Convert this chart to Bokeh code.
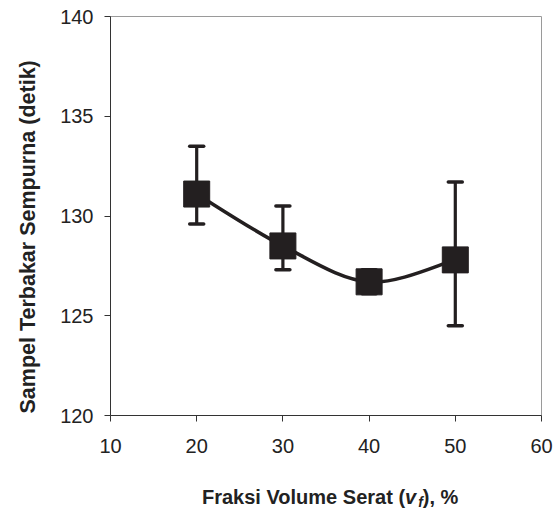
from bokeh.plotting import figure
from bokeh.models import ColumnDataSource, Whisker, TeeHead, Range1d, FixedTicker, Title, Div
from bokeh.layouts import column
from bokeh.embed import file_html
from bokeh.resources import INLINE

# Data
fraksi = [20, 30, 40, 50]
waktu = [131.1, 128.5, 126.7, 127.8]
err_atas = [133.5, 130.5, 127.3, 131.7]
err_bawah = [129.6, 127.3, 126.1, 124.5]

x_ticks = [10, 20, 30, 40, 50, 60]
y_ticks = [120, 125, 130, 135, 140]

y_title = "Sampel Terbakar Sempurna (detik)"

INK = "#231f20"
FONT = "Liberation Sans"

p = figure(width=558, height=475, output_backend="svg", toolbar_location=None,
           x_range=Range1d(10, 60), y_range=Range1d(120, 140),
           min_border_left=110, min_border_right=17, min_border_top=16, min_border_bottom=60)
p.xgrid.visible = False
p.ygrid.visible = False
p.outline_line_color = "#9a9a9a"
p.outline_line_width = 1
p.background_fill_color = "white"
p.border_fill_color = "white"

for ax in (p.xaxis[0], p.yaxis[0]):
    ax.axis_line_color = "#333333"
    ax.major_tick_line_color = "#333333"
    ax.major_tick_in = 0
    ax.major_tick_out = 6
    ax.minor_tick_line_color = None
    ax.major_label_text_font = FONT
    ax.major_label_text_font_size = "20px"
    ax.major_label_text_color = "#222222"

p.xaxis.ticker = FixedTicker(ticks=x_ticks)
p.yaxis.ticker = FixedTicker(ticks=y_ticks)
p.xaxis.major_label_standoff = 17
p.yaxis.major_label_standoff = 11

# Y title as a side-panel title so it can be offset along the axis
p.add_layout(Title(text=y_title, align="left", offset=2, standoff=31, vertical_align="top",
                   text_font=FONT, text_font_style="bold", text_font_size="21.5px",
                   text_color="#222222"), "left")

# Error bars
src = ColumnDataSource(dict(x=fraksi, y=waktu, up=err_atas, lo=err_bawah))
w = Whisker(base="x", upper="up", lower="lo", source=src,
            line_color=INK, line_width=3.2,
            upper_head=TeeHead(size=14, line_width=3.5, line_color=INK, line_cap="round"),
            lower_head=TeeHead(size=14, line_width=3.5, line_color=INK, line_cap="round"))
p.add_layout(w)

# Smoothed line (Catmull-Rom style Bezier through the data points)
n = len(fraksi)
x0s, y0s, x1s, y1s, cx0, cy0, cx1, cy1 = [], [], [], [], [], [], [], []
for i in range(n - 1):
    xm1, ym1 = (fraksi[i - 1], waktu[i - 1]) if i > 0 else (fraksi[i], waktu[i])
    xp2, yp2 = (fraksi[i + 2], waktu[i + 2]) if i + 2 < n else (fraksi[i + 1], waktu[i + 1])
    x0s.append(fraksi[i]); y0s.append(waktu[i])
    x1s.append(fraksi[i + 1]); y1s.append(waktu[i + 1])
    cx0.append(fraksi[i] + (fraksi[i + 1] - xm1) / 6)
    cy0.append(waktu[i] + (waktu[i + 1] - ym1) / 6)
    cx1.append(fraksi[i + 1] - (xp2 - fraksi[i]) / 6)
    cy1.append(waktu[i + 1] - (yp2 - waktu[i]) / 6)
p.bezier(x0=x0s, y0=y0s, x1=x1s, y1=y1s, cx0=cx0, cy0=cy0, cx1=cx1, cy1=cy1,
         line_color=INK, line_width=3.5)

# Markers
p.scatter("x", "y", source=src, marker="square", size=26, fill_color=INK, line_color=INK)

# X title (mixed styles: italic v with subscript f)
x_title_html = (
    "<div style=\"padding-left:202px;padding-top:12px;font-family:'Liberation Sans';"
    "font-size:20px;font-weight:bold;line-height:20px;color:#222222;white-space:nowrap\">"
    "Fraksi Volume Serat (<i>v<sub style=\"font-size:14px;vertical-align:-3px;padding-left:2px\">f</sub></i>), %"
    "</div>"
)
div = Div(text=x_title_html, width=558, height=36, margin=(0, 0, 0, 0))

layout = column(p, div, spacing=0)
open("out.html", "w").write(file_html(layout, INLINE))
